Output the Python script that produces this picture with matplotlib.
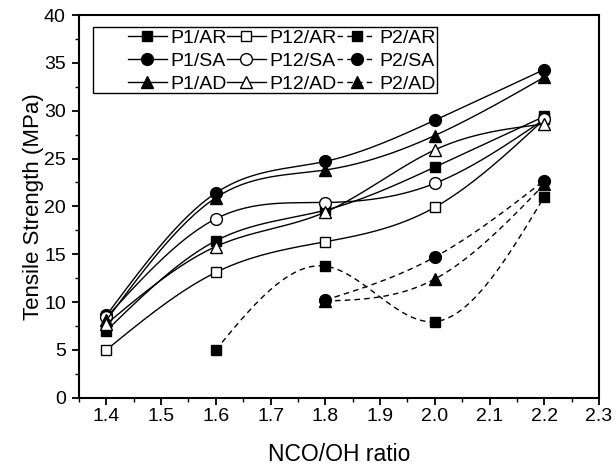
import numpy as np
import matplotlib
matplotlib.use("Agg")
import matplotlib.pyplot as plt
from matplotlib.ticker import MultipleLocator, FixedLocator, FormatStrFormatter
from matplotlib.patches import Rectangle

plt.rcParams['font.family'] = ['Liberation Sans', 'DejaVu Sans']

x_full = [1.4, 1.6, 1.8, 2.0, 2.2]
x_p2_ar = [1.6, 1.8, 2.0, 2.2]
x_p2 = [1.8, 2.0, 2.2]

p1_ar = [7.0, 16.4, 19.6, 24.1, 29.4]
p12_ar = [5.0, 13.1, 16.3, 19.9, 29.1]
p2_ar = [5.0, 13.75, 7.95, 21.0]
p1_sa = [8.6, 21.4, 24.7, 29.0, 34.3]
p12_sa = [8.4, 18.7, 20.4, 22.4, 29.1]
p2_sa = [10.2, 14.7, 22.7]
p1_ad = [8.1, 20.9, 23.8, 27.4, 33.5]
p12_ad = [7.7, 15.8, 19.4, 25.9, 28.6]
p2_ad = [10.1, 12.4, 22.3]

labels = ['P1/AR', 'P12/AR', 'P2/AR', 'P1/SA', 'P12/SA', 'P2/SA',
          'P1/AD', 'P12/AD', 'P2/AD']
xticks = [1.4, 1.5, 1.6, 1.7, 1.8, 1.9, 2.0, 2.1, 2.2, 2.3]


def natural_spline(x, y, n=200):
    x = np.asarray(x, float); y = np.asarray(y, float)
    m = len(x)
    h = np.diff(x)
    A = np.zeros((m, m)); b = np.zeros(m)
    A[0, 0] = 1; A[-1, -1] = 1
    for i in range(1, m - 1):
        A[i, i - 1] = h[i - 1]
        A[i, i] = 2 * (h[i - 1] + h[i])
        A[i, i + 1] = h[i]
        b[i] = 3 * ((y[i + 1] - y[i]) / h[i] - (y[i] - y[i - 1]) / h[i - 1])
    c = np.linalg.solve(A, b)
    xs = np.linspace(x[0], x[-1], n)
    ys = np.empty_like(xs)
    for k, xv in enumerate(xs):
        i = min(np.searchsorted(x, xv, side='right') - 1, m - 2)
        bi = (y[i + 1] - y[i]) / h[i] - h[i] * (2 * c[i] + c[i + 1]) / 3
        di = (c[i + 1] - c[i]) / (3 * h[i])
        dx = xv - x[i]
        ys[k] = y[i] + bi * dx + c[i] * dx ** 2 + di * dx ** 3
    return xs, ys


fig = plt.figure(figsize=(6.16, 4.69), dpi=100)
ax = fig.add_axes([79 / 616, 1 - 397.7 / 469, 520 / 616, 382.7 / 469])

msz = {'s': 7.5, 'o': 8.5, '^': 8.5}
series = [
    (x_full, p1_ar, 's', 'black', '-'),
    (x_full, p12_ar, 's', 'white', '-'),
    (x_p2_ar, p2_ar, 's', 'black', '--'),
    (x_full, p1_sa, 'o', 'black', '-'),
    (x_full, p12_sa, 'o', 'white', '-'),
    (x_p2, p2_sa, 'o', 'black', '--'),
    (x_full, p1_ad, '^', 'black', '-'),
    (x_full, p12_ad, '^', 'white', '-'),
    (x_p2, p2_ad, '^', 'black', '--'),
]

handles = []
for (xx, yy, mk, fc, ls), lab in zip(series, labels):
    xs, ys = natural_spline(xx, yy)
    kw = dict(color='black', lw=1.0)
    if ls == '--':
        kw['dashes'] = (4, 3)
    ax.plot(xs, ys, **kw)
    ax.plot(xx, yy, ls='none', marker=mk, ms=msz[mk], mfc=fc, mec='black', mew=1.0)
    h, = ax.plot([], [], marker=mk, ms=msz[mk], mfc=fc, mec='black', mew=1.0,
                 label=lab, **kw)
    handles.append(h)

order = [0, 3, 6, 1, 4, 7, 2, 5, 8]
leg = ax.legend([handles[i] for i in order], [labels[i] for i in order],
                ncol=3, loc='upper left', bbox_to_anchor=(0.094, 0.963),
                frameon=False, fontsize=14, handlelength=2.0, handletextpad=0.2,
                columnspacing=0.0, borderpad=0.0, labelspacing=0.28,
                borderaxespad=0.0)
ax.add_patch(Rectangle((0.027, 0.796), 0.661, 0.173, transform=ax.transAxes,
                       fill=False, edgecolor='black', lw=1.0, zorder=5))

ax.set_xlim(1.35, 2.3)
ax.set_ylim(0, 40)
ax.xaxis.set_major_locator(FixedLocator(xticks))
ax.xaxis.set_major_formatter(FormatStrFormatter('%.1f'))
ax.xaxis.set_minor_locator(MultipleLocator(0.05))
ax.yaxis.set_major_locator(MultipleLocator(5))
ax.yaxis.set_minor_locator(MultipleLocator(2.5))
ax.tick_params(which='major', direction='out', length=5, width=1.3, labelsize=14)
ax.tick_params(which='minor', direction='out', length=3, width=1.0)
ax.tick_params(axis='x', which='major', pad=2.5)
ax.tick_params(axis='y', which='major', pad=4.5)
for s in ax.spines.values():
    s.set_linewidth(1.5)
ax.set_xlabel('NCO/OH ratio', fontsize=16.5)
ax.set_ylabel('Tensile Strength (MPa)', fontsize=16)
ax.xaxis.set_label_coords(0.5, -0.118)
ax.yaxis.set_label_coords(-0.068, 0.5)

fig.savefig('out.png', dpi=100)
